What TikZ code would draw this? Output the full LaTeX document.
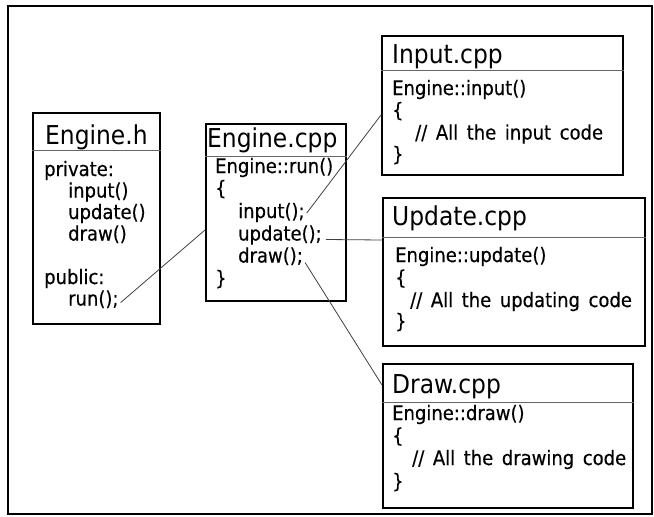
\documentclass[tikz,border=0pt]{standalone}
\usepackage{fontspec}
\setmainfont{DejaVu Sans Condensed}
\newfontfamily\codefont{DejaVu Sans Condensed}[WordSpace=1.5,FakeBold=0.4]
\begin{document}
\begin{tikzpicture}[x=1pt,y=-1pt,
  box/.style={draw, line width=1.8pt, inner sep=0pt, anchor=north west},
  sep/.style={draw=black!60, line width=1pt},
  ttl/.style={anchor=base west, inner sep=0pt, font=\fontsize{26}{30}\selectfont},
  code/.style={anchor=base west, inner sep=0pt, font=\codefont\fontsize{20}{22}\selectfont},
  link/.style={draw=black!75, line width=0.8pt}]
\useasboundingbox (0,0) rectangle (654,517);
\node[box, minimum width=644pt, minimum height=508pt] (frame) at (7,5) {};
% boxes
\node[box, minimum width=127pt, minimum height=211pt] (eh) at (32,112) {};
\node[box, minimum width=140pt, minimum height=177pt] (ec) at (205,123) {};
\node[box, minimum width=241pt, minimum height=139pt] (ic) at (381,35) {};
\node[box, minimum width=262pt, minimum height=148pt] (uc) at (382,197) {};
\node[box, minimum width=250pt, minimum height=144pt] (dc) at (382,363) {};
% separators
\draw[sep] (eh.west |- 0,150) -- (eh.east |- 0,150);
\draw[sep] (ec.west |- 0,156) -- (ec.east |- 0,156);
\draw[sep] (ic.west |- 0,70) -- (ic.east |- 0,70);
\draw[sep] (uc.west |- 0,237) -- (uc.east |- 0,237);
\draw[sep] (dc.west |- 0,402) -- (dc.east |- 0,402);
% Engine.h
\node[ttl] (ht) at (45,144) {Engine.h};
\node[code] (hpriv) at (44,176) {private:};
\node[code] (hin) at (68,197.5) {input()};
\node[code] (hup) at (68,219) {update()};
\node[code] (hdr) at (68,240.5) {draw()};
\node[code] (hpub) at (44,284) {public:};
\node[code] (hrun) at (68,305.5) {run();};
% Engine.cpp
\node[ttl] (ct) at (207,147) {Engine.cpp};
\node[code] (crun) at (215,173) {Engine::run()};
\node[code] (cob) at (215,195) {\{};
\node[code] (cin) at (238,218) {input();};
\node[code] (cup) at (238,240.5) {update();};
\node[code] (cdr) at (238,262.5) {draw();};
\node[code] (ccb) at (215,285) {\}};
% Input.cpp
\node[ttl] (it) at (392,63) {Input.cpp};
\node[code] (ifn) at (392,95) {Engine::input()};
\node[code] (iob) at (392,117) {\{};
\node[code] (icm) at (415,139.5) {// All the input code};
\node[code] (icb) at (392,161) {\}};
% Update.cpp
\node[ttl] (ut) at (392,225) {Update.cpp};
\node[code] (ufn) at (395,262) {Engine::update()};
\node[code] (uob) at (395,284.5) {\{};
\node[code] (ucm) at (410,307) {// All the updating code};
\node[code] (ucb) at (395,328) {\}};
% Draw.cpp
\node[ttl] (dt) at (392,393) {Draw.cpp};
\node[code] (dfn) at (392,420) {Engine::draw()};
\node[code] (dob) at (392,442.5) {\{};
\node[code] (dcm) at (412,465) {// All the drawing code};
\node[code] (dcb) at (392,488) {\}};
% connectors
\draw[link] ([shift={(2,-3)}]hrun.base east) -- (ec.west |- 0,230);
\draw[link] ([shift={(2,-5)}]cin.base east) -- (ic.west |- 0,115);
\draw[link] ([shift={(4,-1)}]cup.base east) -- (uc.west |- 0,240);
\draw[link] ([shift={(2,0)}]cdr.base east) -- (dc.west |- 0,385);
\end{tikzpicture}
\end{document}
